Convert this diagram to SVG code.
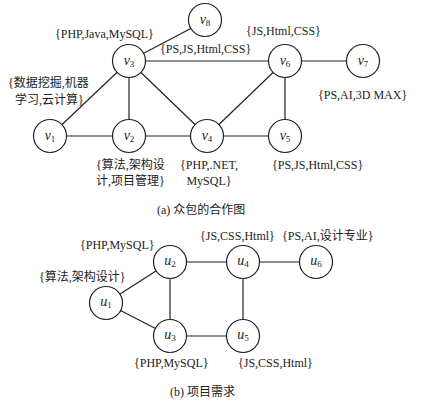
<svg xmlns="http://www.w3.org/2000/svg" width="423" height="403" viewBox="0 0 423 403">
<style>
.e{stroke:#222;stroke-width:1.2;fill:none}
.n{fill:#fff;stroke:#222;stroke-width:1.2}
.t{font-family:'Times New Roman','Liberation Serif','DejaVu Serif','Noto Sans CJK SC',serif;font-size:12px;fill:#222}
.m{text-anchor:middle}
.nl{font-family:'Times New Roman','Liberation Serif','DejaVu Serif',serif;font-style:italic;font-size:14px;fill:#222;text-anchor:middle}
.sb{font-size:9px;font-style:normal}
</style>
<rect width="423" height="403" fill="#fff"/>
<g id="edges">
<line class="e" x1="129" y1="61" x2="205" y2="21"/>
<line class="e" x1="129" y1="61" x2="285" y2="61"/>
<line class="e" x1="129" y1="61" x2="50" y2="136"/>
<line class="e" x1="129" y1="61" x2="129" y2="136"/>
<line class="e" x1="129" y1="61" x2="207" y2="136"/>
<line class="e" x1="50" y1="136" x2="207" y2="136"/>
<line class="e" x1="207" y1="136" x2="285" y2="136"/>
<line class="e" x1="207" y1="136" x2="285" y2="61"/>
<line class="e" x1="285" y1="61" x2="285" y2="136"/>
<line class="e" x1="285" y1="61" x2="363" y2="61"/>
<line class="e" x1="106" y1="303" x2="170" y2="262"/>
<line class="e" x1="106" y1="303" x2="170" y2="336"/>
<line class="e" x1="170" y1="262" x2="170" y2="336"/>
<line class="e" x1="170" y1="262" x2="243" y2="262"/>
<line class="e" x1="170" y1="336" x2="243" y2="336"/>
<line class="e" x1="243" y1="262" x2="243" y2="336"/>
<line class="e" x1="243" y1="262" x2="316" y2="262"/>
</g>
<g id="v1"><circle class="n" cx="50" cy="136" r="16.5"/><text class="nl" x="50" y="140">v<tspan class="sb" dy="2">1</tspan></text></g>
<g id="v2"><circle class="n" cx="129" cy="136" r="16.5"/><text class="nl" x="129" y="140">v<tspan class="sb" dy="2">2</tspan></text></g>
<g id="v3"><circle class="n" cx="129" cy="61" r="16.5"/><text class="nl" x="129" y="65">v<tspan class="sb" dy="2">3</tspan></text></g>
<g id="v4"><circle class="n" cx="207" cy="136" r="16.5"/><text class="nl" x="207" y="140">v<tspan class="sb" dy="2">4</tspan></text></g>
<g id="v5"><circle class="n" cx="285" cy="136" r="16.5"/><text class="nl" x="285" y="140">v<tspan class="sb" dy="2">5</tspan></text></g>
<g id="v6"><circle class="n" cx="285" cy="61" r="16.5"/><text class="nl" x="285" y="65">v<tspan class="sb" dy="2">6</tspan></text></g>
<g id="v7"><circle class="n" cx="363" cy="61" r="16.5"/><text class="nl" x="363" y="65">v<tspan class="sb" dy="2">7</tspan></text></g>
<g id="v8"><circle class="n" cx="205" cy="20" r="16.5"/><text class="nl" x="205" y="24">v<tspan class="sb" dy="2">8</tspan></text></g>
<g id="u1"><circle class="n" cx="106" cy="303" r="16.5"/><text class="nl" x="106" y="306">u<tspan class="sb" dy="2">1</tspan></text></g>
<g id="u2"><circle class="n" cx="170" cy="262" r="16.5"/><text class="nl" x="170" y="265">u<tspan class="sb" dy="2">2</tspan></text></g>
<g id="u3"><circle class="n" cx="170" cy="336" r="16.5"/><text class="nl" x="170" y="339">u<tspan class="sb" dy="2">3</tspan></text></g>
<g id="u4"><circle class="n" cx="243" cy="262" r="16.5"/><text class="nl" x="243" y="265">u<tspan class="sb" dy="2">4</tspan></text></g>
<g id="u5"><circle class="n" cx="243" cy="336" r="16.5"/><text class="nl" x="243" y="339">u<tspan class="sb" dy="2">5</tspan></text></g>
<g id="u6"><circle class="n" cx="316" cy="262" r="16.5"/><text class="nl" x="316" y="265">u<tspan class="sb" dy="2">6</tspan></text></g>
<g id="labels">
<text class="t" x="55" y="38">{PHP,Java,MySQL}</text>
<text class="t" x="160" y="53">{PS,JS,Html,CSS}</text>
<text class="t" x="246" y="35">{JS,Html,CSS}</text>
<text class="t" x="318" y="99">{PS,AI,3D MAX}</text>
<text class="t" x="272" y="169">{PS,JS,Html,CSS}</text>
<text class="t m" x="209" y="169">{PHP,.NET,</text>
<text class="t m" x="209" y="185">MySQL}</text>
<text class="t" x="96" y="169">{算法,架构设</text>
<text class="t" x="96" y="185">计,项目管理}</text>
<text class="t" x="8" y="87">{数据挖掘,机器</text>
<text class="t" x="15" y="104">学习,云计算}</text>
<text class="t" x="157" y="214">(a) 众包的合作图</text>
<text class="t" x="80" y="249">{PHP,MySQL}</text>
<text class="t" x="39" y="281">{算法,架构设计}</text>
<text class="t" x="134" y="367">{PHP,MySQL}</text>
<text class="t" x="200" y="240">{JS,CSS,Html}</text>
<text class="t" x="282" y="240">{PS,AI,设计专业}</text>
<text class="t" x="238" y="367">{JS,CSS,Html}</text>
<text class="t" x="170" y="396">(b) 项目需求</text>
</g>
</svg>
